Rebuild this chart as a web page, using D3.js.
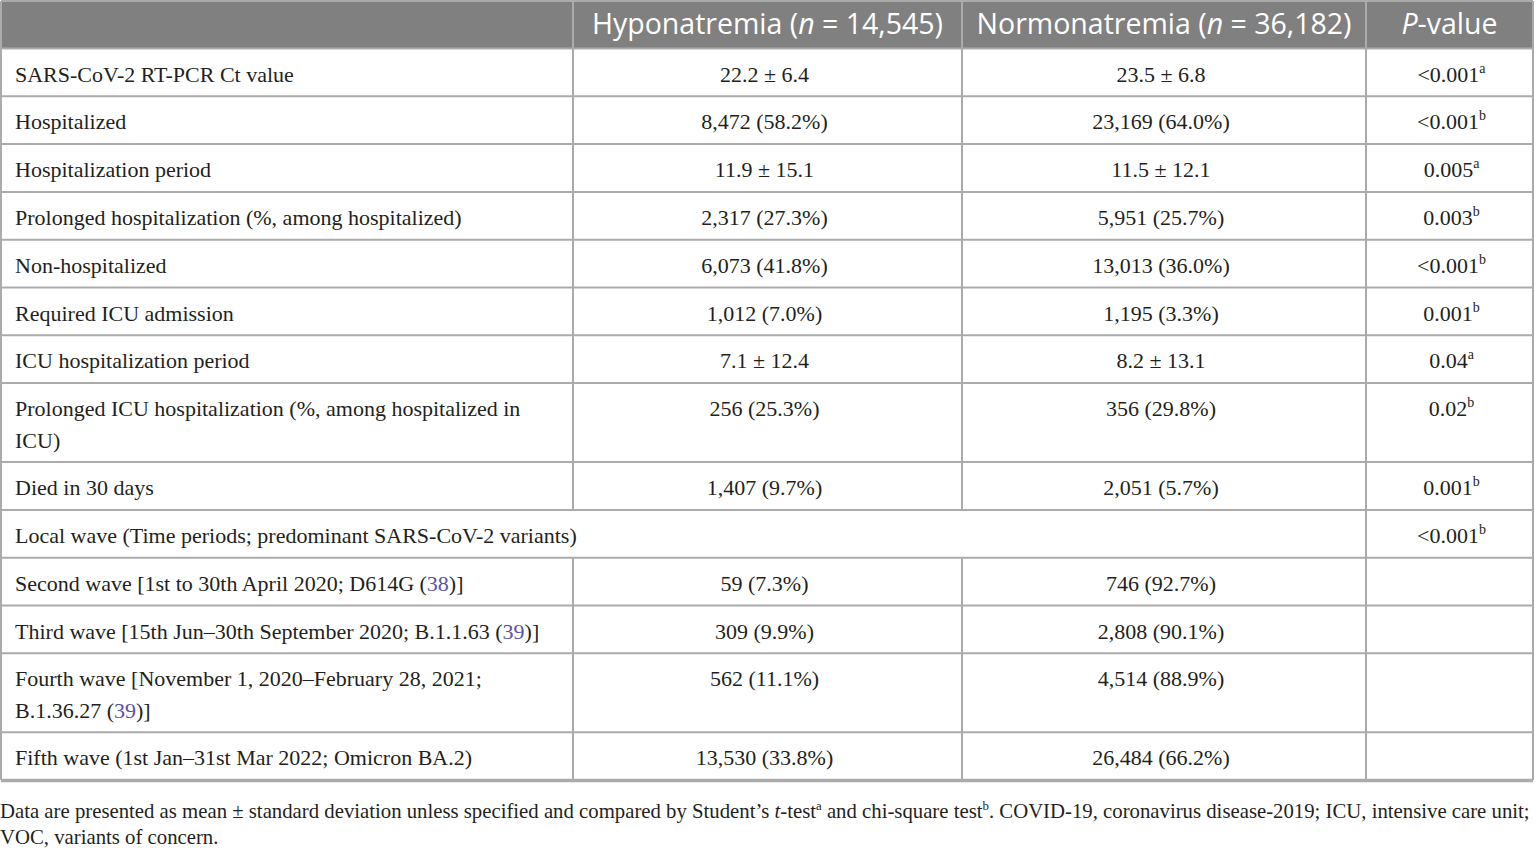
<!DOCTYPE html>
<html><head><meta charset="utf-8">
<script src="https://cdn.jsdelivr.net/npm/d3@7/dist/d3.min.js"></script>
<style>html,body{margin:0;padding:0;background:#fff;overflow:hidden}</style>
</head><body>
<svg id="c" width="1535" height="848"></svg>
<script>
// ---------- data ----------
const headerCols = ["", "Hyponatremia (*n* = 14,545)", "Normonatremia (*n* = 36,182)", "*P*-value"];
const rowLabels = [
  "SARS-CoV-2 RT-PCR Ct value",
  "Hospitalized",
  "Hospitalization period",
  "Prolonged hospitalization (%, among hospitalized)",
  "Non-hospitalized",
  "Required ICU admission",
  "ICU hospitalization period",
  "Prolonged ICU hospitalization (%, among hospitalized in|ICU)",
  "Died in 30 days",
  "Local wave (Time periods; predominant SARS-CoV-2 variants)",
  "Second wave [1st to 30th April 2020; D614G ({38})]",
  "Third wave [15th Jun–30th September 2020; B.1.1.63 ({39})]",
  "Fourth wave [November 1, 2020–February 28, 2021;|B.1.36.27 ({39})]",
  "Fifth wave (1st Jan–31st Mar 2022; Omicron BA.2)"
];
const hypoValues = ["22.2 ± 6.4","8,472 (58.2%)","11.9 ± 15.1","2,317 (27.3%)","6,073 (41.8%)","1,012 (7.0%)","7.1 ± 12.4","256 (25.3%)","1,407 (9.7%)",null,"59 (7.3%)","309 (9.9%)","562 (11.1%)","13,530 (33.8%)"];
const normoValues = ["23.5 ± 6.8","23,169 (64.0%)","11.5 ± 12.1","5,951 (25.7%)","13,013 (36.0%)","1,195 (3.3%)","8.2 ± 13.1","356 (29.8%)","2,051 (5.7%)",null,"746 (92.7%)","2,808 (90.1%)","4,514 (88.9%)","26,484 (66.2%)"];
const pValues = ["<0.001","<0.001","0.005","0.003","<0.001","0.001","0.04","0.02","0.001","<0.001","","","",""];
const pMarks = ["a","b","a","b","b","b","a","b","b","b","","","",""];
const footnoteLines = [
  "Data are presented as mean ± standard deviation unless specified and compared by Student’s *t*-test^a^ and chi-square test^b^. COVID-19, coronavirus disease-2019; ICU, intensive care unit;",
  "VOC, variants of concern."
];

// ---------- layout ----------
const svg = d3.select("#c");
const colEdges = [1, 573, 962, 1366, 1533];
const x = d3.scaleOrdinal().domain([0,1,2,3]).range(colEdges.slice(0,4));
const colW = i => colEdges[i+1] - colEdges[i];
const headerTop = 1, headerH = 47.5;
const singleH = 47.8, doubleH = 79;
const lineColor = "#ababab";
const textColor = "#231f20";
const linkColor = "#5a52a8";
const serif = "'Liberation Serif','DejaVu Serif',serif";
const sans = "'Open Sans','Noto Sans',sans-serif";

const nLines = rowLabels.map(l => l.split("|").length);
const rowTops = [];
let yy = headerTop + headerH;
nLines.forEach(n => { rowTops.push(yy); yy += (n > 1 ? doubleH : singleH); });
const tableBottom = yy;

// segments parser: *italic*, ^sup^, {link}
function parse(str) {
  const segs = [];
  const re = /(\*[^*]+\*|\^[^^]+\^|\{[^}]+\})/g;
  let last = 0, m;
  while ((m = re.exec(str))) {
    if (m.index > last) segs.push({t: str.slice(last, m.index)});
    const s = m[0], inner = s.slice(1, -1);
    if (s[0] === "*") segs.push({t: inner, it: true});
    else if (s[0] === "^") segs.push({t: inner, sup: true});
    else segs.push({t: inner, link: true});
    last = m.index + s.length;
  }
  if (last < str.length) segs.push({t: str.slice(last)});
  return segs;
}
function fill(textSel, str, supSize, supRaise) {
  const segs = parse(str);
  let raised = false;
  segs.forEach(s => {
    const ts = textSel.append("tspan").text(s.t);
    if (s.it) ts.attr("font-style", "italic");
    if (s.link) ts.attr("fill", linkColor);
    if (s.sup) { ts.attr("font-size", supSize).attr("dy", -supRaise); raised = true; }
    else if (raised) { ts.attr("dy", supRaise); raised = false; }
  });
}

// header background
svg.append("rect").attr("x", colEdges[0]).attr("y", headerTop)
  .attr("width", colEdges[4] - colEdges[0]).attr("height", headerH)
  .attr("fill", "#808080");

// header texts
headerCols.forEach((h, i) => {
  if (!h) return;
  const t = svg.append("text")
    .attr("x", x(i) + colW(i) / 2).attr("y", headerTop + 33)
    .attr("text-anchor", "middle").attr("font-family", sans)
    .attr("font-size", 28.5).attr("fill", "#fff");
  fill(t, h, 16, 8);
});

// body
const g = svg.append("g");
rowLabels.forEach((lab, r) => {
  const top = rowTops[r];
  const lines = lab.split("|");
  lines.forEach((ln, k) => {
    const t = g.append("text").attr("x", x(0) + 14).attr("y", top + 33 + k * 32)
      .attr("font-family", serif).attr("font-size", 22).attr("fill", textColor);
    fill(t, ln, 14, 9);
  });
  [[1, hypoValues[r]], [2, normoValues[r]]].forEach(([c, v]) => {
    if (v == null) return;
    g.append("text").attr("x", x(c) + colW(c) / 2 - 3).attr("y", top + 33)
      .attr("text-anchor", "middle").attr("font-family", serif)
      .attr("font-size", 22).attr("fill", textColor).text(v);
  });
  if (pValues[r]) {
    const t = g.append("text").attr("x", x(3) + colW(3) / 2 + 2).attr("y", top + 33)
      .attr("text-anchor", "middle").attr("font-family", serif)
      .attr("font-size", 22).attr("fill", textColor);
    fill(t, pValues[r] + "^" + pMarks[r] + "^", 14, 9);
  }
});

// grid lines
const grid = svg.append("g").attr("stroke", lineColor).attr("stroke-width", 2).attr("fill", "none");
rowTops.forEach(t => grid.append("line").attr("x1", colEdges[0]).attr("x2", colEdges[4]).attr("y1", t).attr("y2", t));
[1,2,3].forEach(c => grid.append("line").attr("x1", colEdges[c]).attr("x2", colEdges[c]).attr("y1", headerTop).attr("y2", headerTop + headerH));
rowLabels.forEach((lab, r) => {
  const top = rowTops[r], h = nLines[r] > 1 ? doubleH : singleH;
  const cs = hypoValues[r] == null ? [3] : [1,2,3];
  cs.forEach(c => grid.append("line").attr("x1", colEdges[c]).attr("x2", colEdges[c]).attr("y1", top).attr("y2", top + h));
});
grid.append("line").attr("x1", colEdges[0]).attr("x2", colEdges[4]).attr("y1", headerTop).attr("y2", headerTop);
grid.append("line").attr("x1", colEdges[0]).attr("x2", colEdges[0]).attr("y1", headerTop).attr("y2", tableBottom);
grid.append("line").attr("x1", colEdges[4]).attr("x2", colEdges[4]).attr("y1", headerTop).attr("y2", tableBottom);
grid.append("line").attr("x1", colEdges[0]).attr("x2", colEdges[4]).attr("y1", tableBottom + 0.5).attr("y2", tableBottom + 0.5).attr("stroke-width", 3.5);

// footnote
const fn = svg.append("g");
const fTexts = footnoteLines.map((ln, k) => {
  const t = fn.append("text").attr("x", 0).attr("y", 818 + k * 26)
    .attr("font-family", serif).attr("font-size", 21).attr("fill", textColor);
  fill(t, ln, 13, 8);
  return t;
});
const w0 = fTexts[0].node().getComputedTextLength();
const sx = 1530 / w0;
fTexts.forEach(t => t.attr("transform", `scale(${sx},1)`));
</script>
</body></html>
